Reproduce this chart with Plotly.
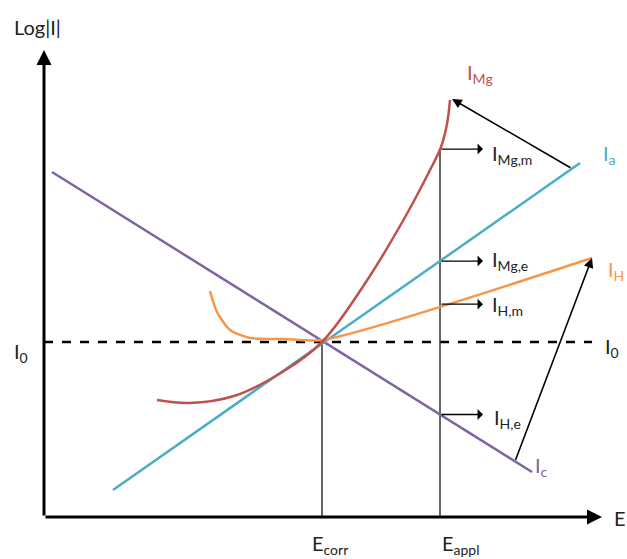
import numpy as np
import plotly.graph_objects as go

# schematic units: E along x, log|I| along y, origin at the axes corner
ia_E = [69, 536]
ia_logI = [27, 354]

ic_E = [8, 488]
ic_logI = [345, 45]

ih_E = [166, 173, 186, 206, 240, 278, 548]
ih_logI = [226, 205, 187, 179, 178, 177, 259]

img_E = [113, 145, 190, 240, 278, 320, 360, 385, 397, 403, 406]
img_logI = [117, 114, 121, 146, 175, 232, 298, 345, 370, 393, 417]

I0 = 175
E_corr = 278
E_appl = 396
E_max = 558
logI_max = 467

RED = "#c0504d"
BLUE = "#4bacc6"
ORANGE = "#f79646"
PURPLE = "#8064a2"
FAMILY = "Lato, Open Sans, sans-serif"

fig = go.Figure()

# reference lines
fig.add_trace(go.Scatter(x=[0, 548], y=[I0, I0], mode="lines",
                         line=dict(color="black", width=2.5, dash="dash")))
fig.add_trace(go.Scatter(x=[E_corr, E_corr], y=[0, I0], mode="lines",
                         line=dict(color="#333", width=1.5)))
mg_at_appl = np.interp(E_appl, img_E, img_logI)
fig.add_trace(go.Scatter(x=[E_appl, E_appl], y=[0, mg_at_appl], mode="lines",
                         line=dict(color="#333", width=1.5)))

# curves
fig.add_trace(go.Scatter(x=ic_E, y=ic_logI, mode="lines", line=dict(color=PURPLE, width=2.5)))
fig.add_trace(go.Scatter(x=ia_E, y=ia_logI, mode="lines", line=dict(color=BLUE, width=2.5)))
fig.add_trace(go.Scatter(x=ih_E, y=ih_logI, mode="lines",
                         line=dict(color=ORANGE, width=2.5, shape="spline", smoothing=0.7)))
fig.add_trace(go.Scatter(x=img_E, y=img_logI, mode="lines",
                         line=dict(color=RED, width=2.5, shape="spline", smoothing=1.0)))


def arrow(x0, y0, x1, y1, width=1.5, head=2, size=1.2):
    fig.add_annotation(x=x1, y=y1, ax=x0, ay=y0, xref="x", yref="y", axref="x", ayref="y",
                       text="", showarrow=True, arrowhead=head, arrowsize=size,
                       arrowwidth=width, arrowcolor="black")


# axes
arrow(0, 0, 0, logI_max, width=3, head=2, size=1)
arrow(0, 0, E_max, 0, width=3, head=2, size=1)

# short arrows from E_appl
blue_at_appl = np.interp(E_appl, ia_E, ia_logI)
orange_at_appl = np.interp(E_appl, ih_E, ih_logI)
purple_at_appl = np.interp(E_appl, ic_E, ic_logI)
for yv in [mg_at_appl, blue_at_appl, orange_at_appl, purple_at_appl]:
    arrow(E_appl, yv, E_appl + 43, yv, width=1.3, head=1, size=1.4)

# long arrows
arrow(528, np.interp(528, ia_E, ia_logI), img_E[-1] + 2, img_logI[-1] + 1, width=1.5, head=2, size=1.3)
arrow(471, np.interp(471, ic_E, ic_logI), ih_E[-1], ih_logI[-1], width=1.5, head=2, size=1.3)

labels = [
    (-32, 490, "Log|I|", "#222"),
    (421, 444, "I<sub>Mg</sub>", RED),
    (557, 363, "I<sub>a</sub>", BLUE),
    (446, 363, "I<sub>Mg,m</sub>", "#222"),
    (446, 257, "I<sub>Mg,e</sub>", "#222"),
    (562, 247, "I<sub>H</sub>", ORANGE),
    (446, 212, "I<sub>H,m</sub>", "#222"),
    (559, 170, "I<sub>0</sub>", "#222"),
    (-32, 165, "I<sub>0</sub>", "#222"),
    (448, 99, "I<sub>H,e</sub>", "#222"),
    (489, 51, "I<sub>c</sub>", PURPLE),
    (568, -1, "E", "#222"),
    (266, -27, "E<sub>corr</sub>", "#222"),
    (396, -27, "E<sub>appl</sub>", "#222"),
]
for lx, ly, txt, col in labels:
    fig.add_annotation(x=lx, y=ly, text=txt, showarrow=False, xanchor="left", yanchor="middle",
                       font=dict(family=FAMILY, size=20, color=col))

fig.update_layout(
    width=627, height=559, autosize=False,
    margin=dict(l=0, r=0, t=0, b=0),
    paper_bgcolor="white", plot_bgcolor="white",
    showlegend=False,
    xaxis=dict(range=[-44, 583], visible=False, fixedrange=True),
    yaxis=dict(range=[-42, 517], visible=False, fixedrange=True),
)

fig.write_html("out.html", config={"displayModeBar": False},
               post_script="document.body.style.margin='0';")
